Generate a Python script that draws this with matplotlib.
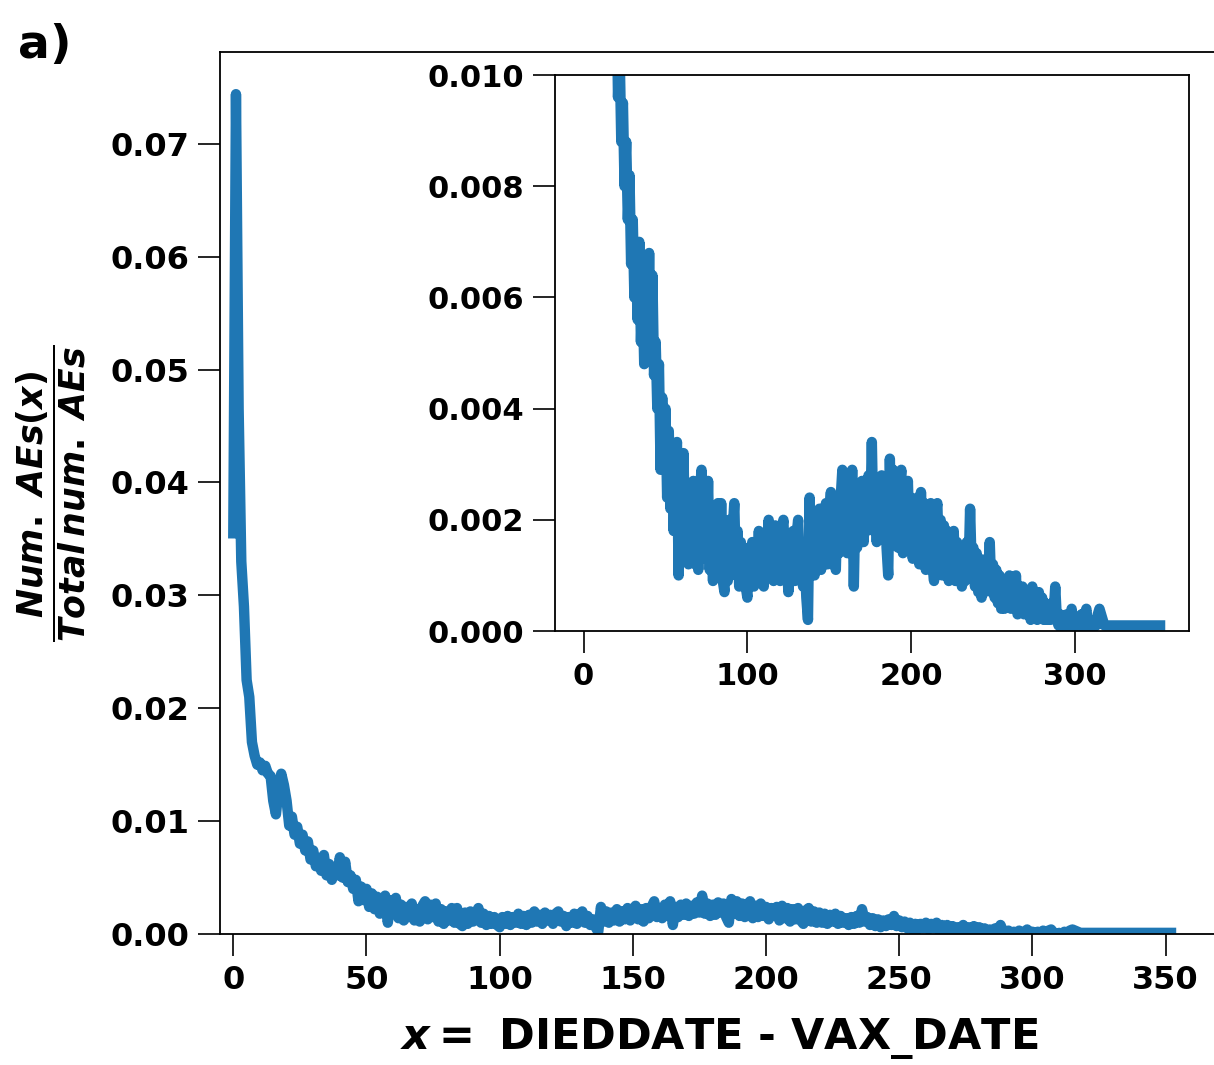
import numpy as np
import matplotlib
matplotlib.use("Agg")
import matplotlib.pyplot as plt

plt.rcParams['font.family'] = 'DejaVu Sans'
plt.rcParams['font.weight'] = 'bold'
plt.rcParams['mathtext.fontset'] = 'custom'
plt.rcParams['mathtext.it'] = 'DejaVu Sans:italic:bold'
plt.rcParams['mathtext.rm'] = 'DejaVu Sans:bold'
plt.rcParams['mathtext.bf'] = 'DejaVu Sans:bold'

# fraction of AEs per day (x = DIEDDATE - VAX_DATE), in units of 1e-4
days = np.arange(0, 353)
frac_1e4 = [
    355, 744, 465, 330, 290, 225, 210, 170, 158, 150,
    152, 145, 149, 142, 140, 118, 106, 128, 142, 132,
    118, 96, 104, 88, 95, 80, 88, 74, 82, 66,
    74, 60, 66, 56, 70, 52, 62, 48, 58, 52,
    68, 50, 64, 46, 52, 40, 48, 29, 42, 30,
    40, 24, 36, 22, 33, 18, 30, 34, 10, 30,
    18, 32, 14, 26, 12, 24, 15, 27, 12, 22,
    11, 25, 29, 13, 26, 15, 27, 11, 22, 9,
    20, 12, 23, 10, 23, 9, 7, 19, 9, 20,
    11, 18, 23, 10, 18, 8, 16, 9, 15, 8,
    6, 15, 9, 16, 8, 15, 10, 18, 9, 16,
    8, 17, 10, 20, 11, 17, 9, 19, 12, 17,
    9, 18, 20, 11, 16, 7, 15, 10, 18, 9,
    17, 20, 10, 16, 8, 13, 6, 2, 24, 11,
    20, 10, 19, 12, 22, 11, 20, 13, 23, 12,
    21, 25, 13, 22, 11, 23, 14, 24, 29, 15,
    23, 14, 26, 16, 29, 8, 24, 15, 26, 17,
    27, 16, 25, 18, 28, 19, 34, 18, 27, 16,
    26, 17, 28, 19, 27, 15, 10, 31, 18, 29,
    16, 27, 15, 26, 29, 14, 25, 15, 27, 16,
    24, 13, 23, 16, 24, 12, 25, 14, 23, 11,
    22, 13, 23, 12, 9, 21, 23, 11, 20, 10,
    19, 10, 18, 9, 17, 11, 18, 9, 16, 10,
    14, 8, 15, 9, 16, 10, 22, 11, 15, 8,
    14, 7, 13, 6, 12, 7, 13, 8, 16, 7,
    12, 6, 11, 5, 10, 4, 9, 4, 9, 5,
    10, 4, 9, 5, 10, 3, 8, 4, 8, 3,
    7, 3, 6, 2, 8, 3, 6, 2, 7, 3,
    6, 2, 5, 2, 4, 2, 5, 3, 8, 2,
    1, 3, 0, 2, 1, 3, 0, 2, 4, 1,
    2, 0, 2, 0, 3, 1, 3, 4, 1, 0,
    1, 0, 2, 1, 3, 4, 3, 2, 1, 1,
    1, 1, 1, 1, 1, 1, 1, 1, 1, 1,
    1, 1, 1, 1, 1, 1, 1, 1, 1, 1,
    1, 1, 1, 1, 1, 1, 1, 1, 1, 1,
    1, 1, 1,
]
frac = np.array(frac_1e4) / 1e4

main_xticks = [0, 50, 100, 150, 200, 250, 300, 350]
main_yticks = [0.00, 0.01, 0.02, 0.03, 0.04, 0.05, 0.06, 0.07]
inset_xticks = [0, 100, 200, 300]
inset_yticks = [0.000, 0.002, 0.004, 0.006, 0.008, 0.010]

color = '#1f77b4'

fig = plt.figure(figsize=(12.14, 10.65), dpi=100)
ax = fig.add_axes([0.1812, 0.123, 0.822, 0.828])
ax.plot(days, frac, color=color, lw=7.5)
ax.set_xlim(left=-5)
ax.set_ylim(bottom=0)
ax.set_xticks(main_xticks)
ax.set_yticks(main_yticks)
ax.set_yticklabels(['%.2f' % v for v in main_yticks])
ax.tick_params(length=16, width=1.2, labelsize=23, pad=6)
for s in ax.spines.values():
    s.set_linewidth(1.3)
ax.set_xlabel(r'$x =$ DIEDDATE - VAX_DATE', fontsize=31, fontweight='bold', labelpad=15)
ax.set_ylabel(r'$\dfrac{Num.\ AEs(x)}{Total\,num.\ AEs}$', fontsize=25, labelpad=16)

ins = fig.add_axes([0.457, 0.4075, 0.5223, 0.522])
ins.plot(days, frac, color=color, lw=7.5)
ins.set_ylim(0, 0.010)
ins.set_xticks(inset_xticks)
ins.set_yticks(inset_yticks)
ins.set_yticklabels(['%.3f' % v for v in inset_yticks])
ins.tick_params(length=16, width=1.2, labelsize=22, pad=6)
for s in ins.spines.values():
    s.set_linewidth(1.3)

fig.text(0.015, 0.978, 'a)', fontsize=34, fontweight='bold', va='top', ha='left')

fig.savefig('out.png', dpi=100)
